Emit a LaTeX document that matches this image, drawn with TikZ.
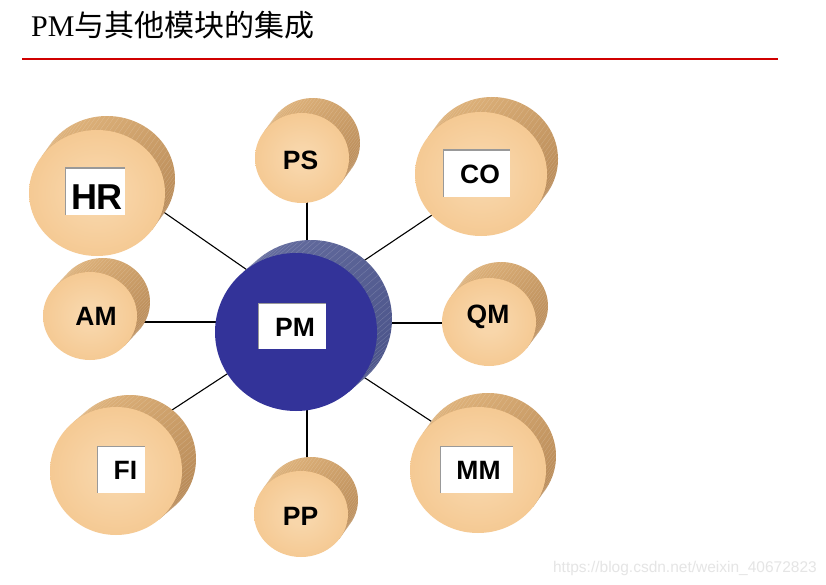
\documentclass[tikz,border=0pt]{standalone}
\usepackage{fontspec}
\setmainfont{Liberation Serif}
\setsansfont{Liberation Sans}
\newfontfamily\cjkfont{Noto Sans CJK SC}
\definecolor{faceIn}{HTML}{F8D6AA}
\definecolor{faceOut}{HTML}{F1B976}
\definecolor{sideA}{HTML}{E0B47C}
\definecolor{sideB}{HTML}{B48654}
\definecolor{pmFace}{HTML}{333399}
\definecolor{pmSideA}{HTML}{646C9E}
\definecolor{pmSideB}{HTML}{4A5389}
\definecolor{titleRed}{HTML}{D00000}
\pgfdeclareradialshading{drumface}{\pgfpoint{0bp}{0bp}}{color(0bp)=(faceIn); color(6bp)=(faceIn); color(50bp)=(faceOut)}
\tikzset{
  oside/.style={top color=sideA, bottom color=sideB, shading angle=40},
  pside/.style={top color=pmSideA, bottom color=pmSideB, shading angle=40},
  oface/.style={shade, shading=drumface},
  pface/.style={fill=pmFace},
  link/.style={draw=black, line width=1.1pt},
  lbl/.style={font=\sffamily\bfseries\fontsize{26.5}{26.5}\selectfont, inner sep=0pt, text=black},
  whitebox/.style={fill=white, inner sep=0pt,
    path picture={\draw[gray!80, line width=1.6pt]
      (path picture bounding box.south west) -- (path picture bounding box.north west)
      -- (path picture bounding box.north east);}},
}
% #1 name, #2 cx, #3 cy (screen px), #4 rx, #5 ry, #6 ox, #7 oy (up), #8 o/p
\newcommand\drum[8]{%
  \pgfmathsetmacro\drSa{atan2(#7,#6)-90}%
  \pgfmathsetmacro\drEa{atan2(#7,#6)+90}%
  \begin{scope}
    \path[clip] ({#2+#4*cos(\drSa)},{-#3+#5*sin(\drSa)}) -- ++(#6,#7)
      arc[start angle=\drSa, end angle=\drEa, x radius=#4, y radius=#5]
      -- ++(-#6,-#7) -- cycle;
    \path[#8side] ({#2-#4-5},{-#3-#5-5}) rectangle ({#2+#4+#6+5},{-#3+#5+#7+5});
    \foreach \t in {3,7,...,179}
      \draw[white, opacity=0.18, line width=0.4pt]
        ({#2+#4*cos(\drSa+\t)},{-#3+#5*sin(\drSa+\t)}) -- ++(#6,#7);
  \end{scope}
  \path[#8face] (#2,-#3) ellipse[x radius=#4, y radius=#5];
  \coordinate (#1) at (#2,-#3);
}
\begin{document}
\begin{tikzpicture}[x=1pt, y=1pt]
\useasboundingbox (0,0) rectangle (826,-585);
\fill[white] (0,0) rectangle (826,-585);

% title
\node[anchor=base west, inner sep=0pt] (title) at (31,-37)
  {\fontsize{30}{30}\selectfont PM\cjkfont 与其他模块的集成};
\draw[titleRed, line width=2.6pt] (22,-59) -- (778,-59);

% connectors (behind the drums)
\coordinate (hrA) at (150,-202.6);  \coordinate (hrB) at (262,-280.3);
\coordinate (psA) at (307,-200);    \coordinate (psB) at (307,-255);
\coordinate (coA) at (350,-270);    \coordinate (coB) at (445,-206.3);
\coordinate (amA) at (130,-322);    \coordinate (amB) at (225,-322);
\coordinate (qmA) at (370,-323);    \coordinate (qmB) at (455,-323);
\coordinate (fiA) at (165,-414.6);  \coordinate (fiB) at (240,-365.5);
\coordinate (ppA) at (307,-400);    \coordinate (ppB) at (307,-480);
\coordinate (mmA) at (355,-371.4);  \coordinate (mmB) at (440,-427);
\foreach \a/\b in {hrA/hrB,psA/psB,coA/coB,amA/amB,qmA/qmB,fiA/fiB,ppA/ppB,mmA/mmB}
  \draw[link] (\a) -- (\b);

% drums
\drum{hrD}{97}{193}{68}{63}{10}{14}{o}
\drum{psD}{302}{158}{47}{45}{11}{15}{o}
\drum{coD}{481}{174}{66}{62}{11}{15}{o}
\drum{amD}{90}{316}{47}{44}{13}{14}{o}
\drum{pmD}{296}{332}{81}{79}{15}{13}{p}
\drum{qmD}{489}{322}{47}{44}{12}{16}{o}
\drum{fiD}{116}{471}{66}{64}{14}{12}{o}
\drum{ppD}{301}{514}{47}{43}{10}{14}{o}
\drum{mmD}{478}{470}{68}{63}{10}{14}{o}

% white boxes
\node[whitebox, minimum width=60, minimum height=47] (hrBox) at (95,-191.5) {};
\node[whitebox, minimum width=67, minimum height=47] (coBox) at (476.5,-173.5) {};
\node[whitebox, minimum width=68, minimum height=46] (pmBox) at (292,-326) {};
\node[whitebox, minimum width=48, minimum height=47] (fiBox) at (121,-469.5) {};
\node[whitebox, minimum width=73, minimum height=47] (mmBox) at (476.5,-469.5) {};

% labels
\node[lbl, font=\sffamily\bfseries\fontsize{36}{36}\selectfont] (hr) at (97,-197.5) {HR};
\node[lbl] (ps) at (300.5,-160) {PS};
\node[lbl] (co) at (480,-174) {CO};
\node[lbl] (am) at (96,-316) {AM};
\node[lbl] (pm) at (295,-327) {PM};
\node[lbl] (qm) at (488,-317) {QM};
\node[lbl] (fi) at (125.5,-470) {FI};
\node[lbl] (pp) at (300.5,-516) {PP};
\node[lbl] (mm) at (478.5,-470) {MM};

% watermark
\node[anchor=base east, inner sep=0pt, text=black!10,
      font=\sffamily\fontsize{15.5}{15.5}\selectfont] (wm) at (817,-572)
  {https://blog.csdn.net/weixin\_40672823};
\end{tikzpicture}
\end{document}
